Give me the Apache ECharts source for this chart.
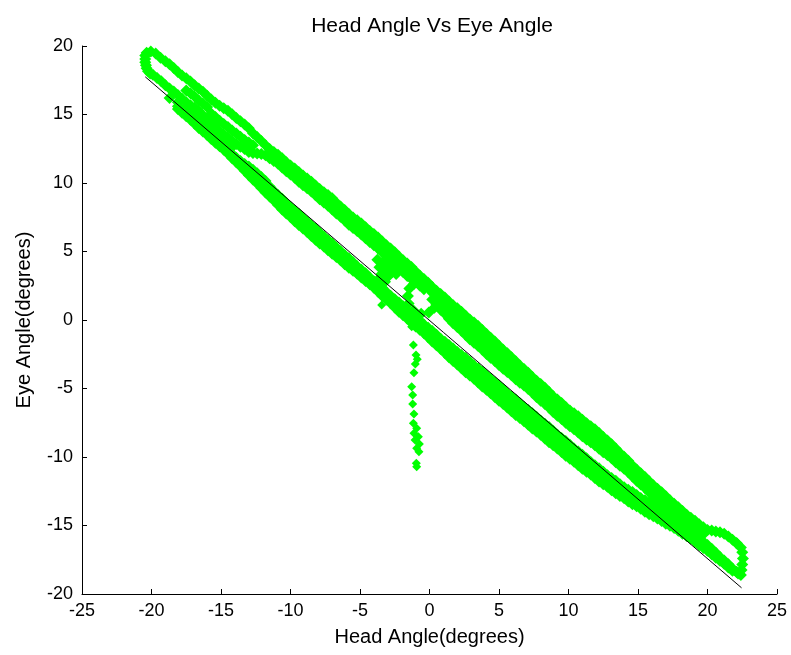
<!DOCTYPE html>
<html>
<head>
<meta charset="utf-8">
<script src="https://cdn.jsdelivr.net/npm/echarts@6/dist/echarts.min.js"></script>
<style>
html,body{margin:0;padding:0;background:#fff;}
#chart{width:791px;height:655px;}
</style>
</head>
<body>
<div id="chart"></div>
<script>
// ---- data (degrees) ----
const xTicks = [-25, -20, -15, -10, -5, 0, 5, 10, 15, 20, 25];
const yTicks = [-20, -15, -10, -5, 0, 5, 10, 15, 20];

const leftCap = [[-20.35,19.5],[-20.05,19.6],[-19.7,19.45],[-20.45,19.05],[-20.4,18.6],[-20.25,18.15],[-19.9,17.9],[-19.35,19.15],[-20.45,19.3],[-20.45,18.82],[-20.35,18.38],[-20.1,18.0]];

const upperTop = [[-19.0,18.89],[-18.4,18.39],[-17.8,17.85],[-17.2,17.4],[-16.6,16.9],[-16.0,16.36],[-15.4,15.86],[-14.8,15.46],[-14.2,15.02],[-13.6,14.5],[-13.0,13.99],[-12.4,13.35],[-11.8,12.75],[-11.2,12.26],[-10.6,11.81],[-10.0,11.27],[-9.4,10.8],[-8.8,10.32],[-8.2,9.82],[-7.6,9.33],[-7.0,8.88],[-6.4,8.28],[-5.8,7.73],[-5.2,7.29],[-4.6,6.77],[-4.0,6.27],[-3.4,5.73],[-2.8,5.22],[-2.2,4.63],[-1.6,4.13],[-1.0,3.54],[-0.4,2.99],[0.2,2.4],[0.8,1.89],[1.4,1.35],[2.0,0.85],[2.6,0.31],[3.2,-0.19],[3.8,-0.73],[4.4,-1.29],[5.0,-1.88],[5.6,-2.43],[6.2,-3.02],[6.8,-3.57],[7.4,-4.16],[8.0,-4.67],[8.6,-5.26],[9.2,-5.81],[9.8,-6.35],[10.4,-6.8],[11.0,-7.29],[11.6,-7.75],[12.2,-8.24],[12.8,-8.79],[13.4,-9.38],[14.0,-9.98],[14.6,-10.62],[15.2,-11.18],[15.8,-11.77],[16.4,-12.32],[17.0,-12.86],[17.6,-13.41],[18.2,-13.95],[18.8,-14.43],[19.4,-14.9],[20.0,-15.32],[20.6,-15.44],[21.2,-15.61],[21.8,-16.04],[22.4,-16.61]];
const upperTopB = [[-18.7,18.66],[-18.1,18.1],[-17.5,17.65],[-16.9,17.13],[-16.3,16.66],[-15.7,16.1],[-15.1,15.64],[-14.5,15.27],[-13.9,14.74],[-13.3,14.27],[-12.7,13.64],[-12.1,13.07],[-11.5,12.49],[-10.9,12.06],[-10.3,11.52],[-9.7,11.06],[-9.1,10.54],[-8.5,10.09],[-7.9,9.56],[-7.3,9.13],[-6.7,8.55],[-6.1,8.03],[-5.5,7.49],[-4.9,7.05],[-4.3,6.5],[-3.7,6.02],[-3.1,5.46],[-2.5,4.95],[-1.9,4.36],[-1.3,3.86],[-0.7,3.25],[-0.1,2.72],[0.5,2.13],[1.1,1.64],[1.7,1.08],[2.3,0.6],[2.9,0.04],[3.5,-0.44],[4.1,-1.03],[4.7,-1.57],[5.3,-2.18],[5.9,-2.71],[6.5,-3.32],[7.1,-3.85],[7.7,-4.44],[8.3,-4.95],[8.9,-5.56],[9.5,-6.06],[10.1,-6.6],[10.7,-7.03],[11.3,-7.54],[11.9,-7.98],[12.5,-8.54],[13.1,-9.07],[13.7,-9.7],[14.3,-10.28],[14.9,-10.92],[15.5,-11.46],[16.1,-12.07],[16.7,-12.57],[17.3,-13.16],[17.9,-13.66],[18.5,-14.21],[19.1,-14.65],[19.7,-15.13],[20.3,-15.36],[20.9,-15.5],[21.5,-15.8],[22.1,-16.3]];

const upperInner = [[-15.7,15.07],[-15.1,14.55],[-14.5,14.08],[-13.9,13.61],[-13.3,13.14],[-12.7,12.76],[-15.4,14.81],[-14.8,14.31],[-14.2,13.84],[-13.6,13.37],[-13.0,12.95]];

const upperMid = [[-17.5,16.76],[-16.9,16.31],[-16.3,15.8],[-11.5,12.16],[-10.9,11.7],[-10.3,11.21],[-9.7,10.7],[-9.1,10.21],[-8.5,9.71],[-7.9,9.2],[-7.3,8.71],[-6.7,8.19],[-6.1,7.62],[-5.5,7.11],[-4.9,6.6],[-4.3,6.1],[-3.7,5.6],[-3.1,5.07],[-2.5,4.53],[-1.9,3.98],[-1.3,3.4],[-0.7,2.82],[-0.1,2.4],[0.5,1.55],[1.1,0.98],[1.7,0.43],[2.3,-0.12],[2.9,-0.66],[3.5,-1.19],[4.1,-1.74],[4.7,-2.31],[5.3,-2.85],[5.9,-3.4],[6.5,-3.93],[7.1,-4.46],[7.7,-5.01],[8.3,-5.56],[8.9,-6.12],[9.5,-6.66],[10.1,-7.16],[10.7,-7.64],[11.3,-8.11],[11.9,-8.58],[12.5,-9.07],[13.1,-9.61],[13.7,-10.15],[14.3,-10.76],[14.9,-11.33],[15.5,-11.92],[16.1,-12.48],[16.7,-13.05],[17.3,-13.61],[17.9,-14.14],[18.5,-14.65],[19.1,-15.15],[19.7,-15.64]];
const upperMidB = [[-17.2,16.55],[-16.6,16.03],[-16.0,15.55],[-11.2,11.95],[-10.6,11.43],[-10.0,10.97],[-9.4,10.43],[-8.8,9.98],[-8.2,9.43],[-7.6,8.97],[-7.0,8.43],[-6.4,7.92],[-5.8,7.34],[-5.2,6.87],[-4.6,6.33],[-4.0,5.87],[-3.4,5.31],[-2.8,4.82],[-2.2,4.23],[-1.6,3.71],[-1.0,3.09],[-0.4,2.63],[0.2,1.99],[0.8,1.25],[1.4,0.72],[2.0,0.13],[2.6,-0.37],[3.2,-0.95],[3.8,-1.45],[4.4,-2.05],[5.0,-2.56],[5.6,-3.15],[6.2,-3.65],[6.8,-4.22],[7.4,-4.72],[8.0,-5.31],[8.6,-5.82],[9.2,-6.41],[9.8,-6.89],[10.4,-7.42],[11.0,-7.86],[11.6,-8.37],[12.2,-8.81],[12.8,-9.36],[13.4,-9.86],[14.0,-10.45],[14.6,-11.02],[15.2,-11.63],[15.8,-12.18],[16.4,-12.79],[17.0,-13.31],[17.6,-13.9],[18.2,-14.38],[18.8,-14.92],[19.4,-15.38]];

const upperBottom = [[-19.6,17.66],[-19.0,17.14],[-18.4,16.67],[-17.8,16.15],[-17.2,15.68],[-16.6,15.25],[-16.0,14.68],[-15.4,14.06],[-14.8,13.54],[-14.2,13.07],[-13.6,12.65],[-13.0,12.27],[-12.4,12.15],[-11.8,12.03],[-11.2,11.61],[-10.6,11.14],[-10.0,10.62],[-9.4,10.09],[-8.8,9.62],[-8.2,9.1],[-7.6,8.58],[-7.0,8.06],[-6.4,7.53],[-5.8,6.96],[-5.2,6.49],[-4.6,5.97],[-4.0,5.45],[-3.4,4.93],[-2.8,4.4],[-2.2,3.83],[-1.6,3.21],[-1.0,2.75],[-0.4,2.25],[0.2,1.5],[0.8,0.75],[1.4,0.1],[2.0,-0.52],[2.6,-1.09],[3.2,-1.66],[3.8,-2.18],[4.4,-2.76],[5.0,-3.28],[5.6,-3.8],[6.2,-4.32],[6.8,-4.79],[7.4,-5.31],[8.0,-5.89],[8.6,-6.41],[9.2,-6.98],[9.8,-7.5],[10.4,-7.97],[11.0,-8.49],[11.6,-8.92],[12.2,-9.39],[12.8,-9.86],[13.4,-10.38],[14.0,-10.85],[14.6,-11.42],[15.2,-12.0],[15.8,-12.57],[16.4,-13.19],[17.0,-13.81],[17.6,-14.33],[18.2,-14.85],[18.8,-15.38],[19.4,-15.9],[20.0,-16.42],[20.6,-16.99],[21.2,-17.56],[21.8,-18.14],[22.4,-18.61]];
const upperBottomB = [[-19.3,17.42],[-18.7,16.89],[-18.1,16.43],[-17.5,15.9],[-16.9,15.49],[-16.3,14.95],[-15.7,14.39],[-15.1,13.78],[-14.5,13.33],[-13.9,12.84],[-13.3,12.48],[-12.7,12.19],[-12.1,12.11],[-11.5,11.8],[-10.9,11.4],[-10.3,10.86],[-9.7,10.38],[-9.1,9.84],[-8.5,9.38],[-7.9,8.82],[-7.3,8.34],[-6.7,7.78],[-6.1,7.27],[-5.5,6.71],[-4.9,6.25],[-4.3,5.69],[-3.7,5.21],[-3.1,4.65],[-2.5,4.14],[-1.9,3.5],[-1.3,3.0],[-0.7,2.52],[0.5,1.11],[1.1,0.45],[1.7,-0.23],[2.3,-0.78],[2.9,-1.4],[3.5,-1.9],[4.1,-2.49],[4.7,-3.0],[5.3,-3.56],[5.9,-4.04],[6.5,-4.58],[7.1,-5.03],[7.7,-5.62],[8.3,-6.13],[8.9,-6.72],[9.5,-7.22],[10.1,-7.76],[10.7,-8.21],[11.3,-8.73],[11.9,-9.14],[12.5,-9.65],[13.1,-10.1],[13.7,-10.64],[14.3,-11.11],[14.9,-11.73],[15.5,-12.27],[16.1,-12.9],[16.7,-13.48],[17.3,-14.09],[17.9,-14.57],[18.5,-15.14],[19.1,-15.62],[19.7,-16.18],[20.3,-16.69],[20.9,-17.3],[21.5,-17.83],[22.1,-18.4]];

const leftFill = [[-17.2,15.23],[-16.6,14.7],[-16.0,14.18],[-15.4,13.66],[-14.8,13.14],[-14.2,12.62],[-18.7,16.2],[-18.1,15.9],[-17.5,15.45],[-16.9,14.95],[-16.3,14.45],[-15.7,13.92],[-15.1,13.4],[-14.5,12.87]];

const lowerTop = [[-18.1,15.61],[-17.5,15.07],[-16.9,14.52],[-16.3,13.96],[-15.7,13.42],[-15.1,12.88],[-14.5,12.33],[-13.9,11.84],[-13.3,11.39],[-12.7,10.96],[-12.1,10.43],[-11.5,9.75],[-10.9,9.13],[-10.3,8.53],[-9.7,7.99],[-9.1,7.46],[-8.5,6.92],[-7.9,6.37],[-7.3,5.84],[-6.7,5.3],[-6.1,4.75],[-5.5,4.21],[-4.9,3.66],[-4.3,3.11],[-3.7,2.57],[-3.1,2.05],[-2.5,1.52],[-1.9,1.0],[-1.3,0.48],[-0.7,-0.04],[-0.1,-0.56],[0.5,-1.08],[1.1,-1.59],[1.7,-2.08],[2.3,-2.55],[2.9,-3.05],[3.5,-3.54],[4.1,-4.03],[4.7,-4.54],[5.3,-5.06],[5.9,-5.58],[6.5,-6.08],[7.1,-6.57],[7.7,-7.06],[8.3,-7.57],[8.9,-8.09],[9.5,-8.61],[10.1,-9.11],[10.7,-9.6],[11.3,-10.09],[11.9,-10.6],[12.5,-11.07],[13.1,-11.54],[13.7,-11.98],[14.3,-12.39],[14.9,-12.77],[15.5,-13.16],[16.1,-13.58],[16.7,-13.95],[17.3,-14.37],[17.9,-14.79],[18.5,-15.26],[19.1,-15.74]];
const lowerTopB = [[-17.8,15.36],[-17.2,14.78],[-16.6,14.26],[-16.0,13.67],[-15.4,13.17],[-14.8,12.59],[-14.2,12.11],[-13.6,11.6],[-13.0,11.2],[-12.4,10.71],[-11.8,10.14],[-11.2,9.42],[-10.6,8.85],[-10.0,8.24],[-9.4,7.75],[-8.8,7.17],[-8.2,6.67],[-7.6,6.09],[-7.0,5.59],[-6.4,5.01],[-5.8,4.5],[-5.2,3.92],[-4.6,3.41],[-4.0,2.82],[-3.4,2.33],[-2.8,1.77],[-2.2,1.28],[-1.6,0.72],[-1.0,0.24],[-0.4,-0.32],[0.2,-0.8],[0.8,-1.36],[1.4,-1.82],[2.0,-2.34],[2.6,-2.78],[3.2,-3.32],[3.8,-3.77],[4.4,-4.31],[5.0,-4.78],[5.6,-5.34],[6.2,-5.81],[6.8,-6.35],[7.4,-6.8],[8.0,-7.34],[8.6,-7.81],[9.2,-8.37],[9.8,-8.84],[10.4,-9.38],[11.0,-9.83],[11.6,-10.37],[12.2,-10.82],[12.8,-11.33],[13.4,-11.74],[14.0,-12.2],[14.6,-12.56],[15.2,-12.99],[15.8,-13.35],[16.4,-13.79],[17.0,-14.14],[17.6,-14.6],[18.2,-15.01],[18.8,-15.52]];

const lowerMid = [[-12.4,10.34],[-11.8,9.69],[-11.2,9.07],[-10.6,8.46],[-10.0,7.87],[-9.4,7.33],[-8.8,6.8],[-8.2,6.25],[-7.6,5.72],[-7.0,5.21],[-6.4,4.67],[-5.8,4.15],[-5.2,3.64],[-4.6,3.12],[-4.0,2.59],[-3.4,2.04],[-2.8,1.49],[-2.2,0.94],[-1.6,0.4],[-1.0,-0.12],[-0.4,-0.65],[0.2,-1.19],[0.8,-1.74],[1.4,-2.27],[2.0,-2.79],[2.6,-3.3],[3.2,-3.81],[3.8,-4.31],[4.4,-4.82],[5.0,-5.34],[5.6,-5.86],[6.2,-6.37],[6.8,-6.87],[7.4,-7.36],[8.0,-7.86],[8.6,-8.37],[9.2,-8.87],[9.8,-9.37],[10.4,-9.86],[11.0,-10.35],[11.6,-10.83],[12.2,-11.3],[12.8,-11.75],[13.4,-12.19],[14.0,-12.62],[14.6,-13.0],[15.2,-13.38],[15.8,-13.7],[16.4,-14.05],[17.0,-14.45],[17.6,-14.85],[18.2,-15.3],[18.8,-15.8],[19.4,-16.25],[20.0,-16.8],[20.6,-17.3],[21.2,-17.8],[21.8,-18.3]];
const lowerMidB = [[-12.1,10.0],[-11.5,9.4],[-10.9,8.75],[-10.3,8.19],[-9.7,7.58],[-9.1,7.09],[-8.5,6.51],[-7.9,6.01],[-7.3,5.45],[-6.7,4.96],[-6.1,4.39],[-5.5,3.92],[-4.9,3.36],[-4.3,2.88],[-3.7,2.3],[-3.1,1.79],[-2.5,1.2],[-1.9,0.69],[-1.3,0.12],[-0.7,-0.37],[-0.1,-0.94],[0.5,-1.45],[1.1,-2.03],[1.7,-2.51],[2.3,-3.07],[2.9,-3.54],[3.5,-4.08],[4.1,-4.55],[4.7,-5.1],[5.3,-5.58],[5.9,-6.14],[6.5,-6.6],[7.1,-7.14],[7.7,-7.59],[8.3,-8.14],[8.9,-8.6],[9.5,-9.14],[10.1,-9.6],[10.7,-10.13],[11.3,-10.57],[11.9,-11.09],[12.5,-11.51],[13.1,-11.99],[13.7,-12.39],[14.3,-12.83],[14.9,-13.18],[15.5,-13.56],[16.1,-13.86],[16.7,-14.27],[17.3,-14.63],[17.9,-15.1],[18.5,-15.53],[19.1,-16.05],[19.7,-16.51],[20.3,-17.07],[20.9,-17.53],[21.5,-18.07]];

const lowerBottom = [[-18.1,15.41],[-17.5,14.87],[-16.9,14.32],[-16.3,13.76],[-15.7,13.22],[-15.1,12.68],[-14.5,12.13],[-13.9,11.51],[-13.3,10.89],[-12.7,10.26],[-12.1,9.64],[-11.5,9.02],[-10.9,8.4],[-10.3,7.78],[-9.7,7.21],[-9.1,6.68],[-8.5,6.14],[-7.9,5.59],[-7.3,5.1],[-6.7,4.6],[-6.1,4.07],[-5.5,3.6],[-4.9,3.11],[-4.3,2.61],[-3.7,2.07],[-3.1,1.49],[-2.5,0.92],[-1.9,0.34],[-1.3,-0.2],[-0.7,-0.72],[-0.1,-1.26],[0.5,-1.84],[1.1,-2.41],[1.7,-2.99],[2.3,-3.53],[2.9,-4.05],[3.5,-4.57],[4.1,-5.09],[4.7,-5.62],[5.3,-6.14],[5.9,-6.66],[6.5,-7.16],[7.1,-7.65],[7.7,-8.14],[8.3,-8.65],[8.9,-9.15],[9.5,-9.64],[10.1,-10.13],[10.7,-10.61],[11.3,-11.07],[11.9,-11.53],[12.5,-11.98],[13.1,-12.42],[13.7,-12.84],[14.3,-13.24],[14.9,-13.6],[15.5,-13.99],[16.1,-14.33],[16.7,-14.67],[17.3,-15.02],[17.9,-15.39],[18.5,-15.76],[19.1,-16.19],[19.7,-16.64],[20.3,-17.1],[20.9,-17.58],[21.5,-18.02],[22.1,-18.4]];
const lowerBottomB = [[-17.8,15.12],[-17.2,14.62],[-16.6,14.02],[-16.0,13.51],[-15.4,12.93],[-14.8,12.43],[-14.2,11.8],[-13.6,11.22],[-13.0,10.56],[-12.4,9.97],[-11.8,9.31],[-11.2,8.73],[-10.6,8.07],[-10.0,7.52],[-9.4,6.93],[-8.8,6.43],[-8.2,5.85],[-7.6,5.37],[-7.0,4.83],[-6.4,4.36],[-5.8,3.82],[-5.2,3.38],[-4.6,2.84],[-4.0,2.36],[-3.4,1.76],[-2.8,1.23],[-2.2,0.61],[-1.6,0.09],[-1.0,-0.48],[-0.4,-0.97],[0.2,-1.57],[0.8,-2.11],[1.4,-2.72],[2.0,-3.24],[2.6,-3.81],[3.2,-4.29],[3.8,-4.85],[4.4,-5.34],[5.0,-5.9],[5.6,-6.38],[6.2,-6.93],[6.8,-7.39],[7.4,-7.92],[8.0,-8.38],[8.6,-8.92],[9.2,-9.38],[9.8,-9.91],[10.4,-10.35],[11.0,-10.86],[11.6,-11.28],[12.2,-11.78],[12.8,-12.18],[13.4,-12.65],[14.0,-13.02],[14.6,-13.44],[15.2,-13.78],[15.8,-14.18],[16.4,-14.48],[17.0,-14.87],[17.6,-15.19],[18.2,-15.6],[18.8,-15.96],[19.4,-16.44],[20.0,-16.85],[20.6,-17.36],[21.2,-17.78],[21.8,-18.23]];

const rightCap = [[22.5,-16.95],[22.55,-17.4],[22.5,-17.85],[22.45,-18.25],[22.1,-16.3],[22.2,-18.5]];

const middleBlob = [[-3.75,4.4],[-3.6,3.85],[-3.45,3.35],[-3.3,4.25],[-3.15,3.7],[-3.0,3.15],[-2.85,4.1],[-2.7,3.5],[-2.55,3.95],[-2.4,3.35],[-3.6,3.05],[-3.2,2.8]];

const smallLoop = [[-1.55,1.75],[-1.45,2.3],[-1.1,2.65],[-0.55,2.75],[0.0,2.55],[0.35,2.05],[0.5,1.45],[0.35,0.9],[-0.05,0.55],[-0.6,0.45],[-1.15,0.7],[-1.5,1.2]];

const tailPoints = [[-3.44,1.09],[-1.28,-0.49],[-1.16,-1.82],[-0.97,-2.55],[-0.88,-2.87],[-1.02,-3.21],[-1.12,-3.85],[-1.28,-4.87],[-1.21,-5.47],[-1.21,-6.13],[-1.12,-6.86],[-1.16,-7.54],[-0.92,-7.91],[-1.12,-8.27],[-0.8,-8.52],[-1.04,-8.76],[-0.73,-9.05],[-0.92,-9.36],[-0.76,-9.61],[-0.95,-10.45],[-0.92,-10.71]];

const fitLine = [[-20.45,17.75],[22.45,-19.55]];

// ---- chart ----
const FONT = '"Liberation Sans", Arial, Helvetica, sans-serif';
const bandPoints = [].concat(leftCap, upperTop, upperTopB, upperInner, upperMid, upperMidB,
  upperBottom, upperBottomB, leftFill, lowerTop, lowerTopB, lowerMid, lowerMidB,
  lowerBottom, lowerBottomB, rightCap, middleBlob, smallLoop);

const chart = echarts.init(document.getElementById('chart'), null, {renderer: 'canvas'});
const axisCommon = {
  type: 'value',
  interval: 5,
  nameLocation: 'middle',
  nameTextStyle: {fontSize: 20, color: '#000', fontFamily: FONT, verticalAlign: 'middle'},
  axisLine: {show: true, onZero: false, lineStyle: {color: '#000', width: 1}},
  axisTick: {show: true, inside: true, length: 5, lineStyle: {color: '#000', width: 1}},
  splitLine: {show: false}
};
chart.setOption({
  animation: false,
  backgroundColor: '#ffffff',
  title: {
    text: 'Head Angle Vs Eye Angle',
    left: 427, top: 11, textAlign: 'center',
    textStyle: {fontSize: 21, fontWeight: 'normal', color: '#000', fontFamily: FONT}
  },
  grid: {left: 82, right: 14, top: 46, bottom: 61, outerBoundsMode: 'none'},
  xAxis: Object.assign({}, axisCommon, {
    min: xTicks[0], max: xTicks[xTicks.length - 1],
    name: 'Head Angle(degrees)', nameGap: 43,
    axisLabel: {color: '#000', fontSize: 18, fontFamily: FONT, margin: 8,
      formatter: v => String(v)}
  }),
  yAxis: Object.assign({}, axisCommon, {
    min: yTicks[0], max: yTicks[yTicks.length - 1],
    name: 'Eye Angle(degrees)', nameGap: 58,
    axisLabel: {color: '#000', fontSize: 18, fontFamily: FONT, margin: 9,
      formatter: v => String(v)}
  }),
  series: [
    {
      type: 'scatter',
      data: bandPoints,
      symbol: 'diamond',
      symbolSize: 12,
      itemStyle: {color: '#00ff00', opacity: 1},
      emphasis: {disabled: true},
      z: 2
    },
    {
      type: 'scatter',
      data: tailPoints,
      symbol: 'diamond',
      symbolSize: 9,
      itemStyle: {color: '#00ff00', opacity: 1},
      emphasis: {disabled: true},
      z: 2
    },
    {
      type: 'line',
      data: fitLine,
      showSymbol: false,
      symbol: 'none',
      lineStyle: {color: '#000', width: 1},
      emphasis: {disabled: true},
      z: 3
    }
  ]
});
</script>
</body>
</html>
